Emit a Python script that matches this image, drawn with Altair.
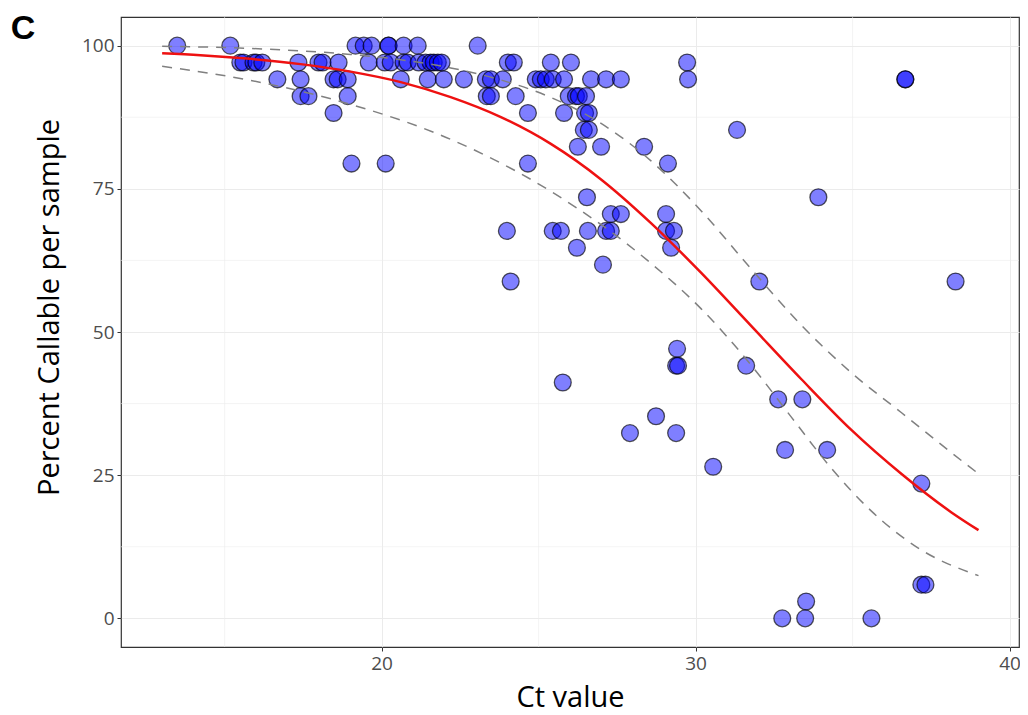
import altair as alt
import pandas as pd

# ---- scatter data (Ct value, percent callable) ----
ct_values = [
    13.49, 15.18, 19.17, 19.43, 19.68, 20.22, 20.22, 20.70, 21.15, 23.06,
    15.50, 15.60, 15.92, 16.01, 16.20, 17.35, 17.99, 18.12, 18.63, 19.59,
    20.10, 20.29, 20.70, 20.83, 21.18, 21.40, 21.56, 21.66, 21.79, 21.91,
    24.02, 24.21, 25.39, 26.03, 29.73,
    16.68, 17.42, 18.47, 18.60, 18.92, 20.61, 21.47, 21.98, 22.62, 23.32,
    23.48, 23.86, 24.91, 25.07, 25.23, 25.45, 25.81, 26.67, 27.15, 27.62,
    29.76, 36.68, 36.68,
    17.42, 17.67, 18.92, 23.35, 23.48, 24.27, 25.96, 26.19, 26.28, 26.51,
    18.47, 24.66, 25.81, 26.48, 26.60,
    26.44, 26.60, 31.32,
    26.25, 26.99, 28.36,
    19.04, 20.13, 24.66, 29.12,
    26.54, 33.91,
    27.30, 27.62, 29.06,
    23.99, 25.45, 25.71, 26.57, 27.15, 27.30, 29.06, 29.31,
    26.22, 29.22,
    27.05,
    24.11, 32.03, 38.28,
    29.41,
    29.38, 29.44, 31.61,
    25.77,
    32.63, 33.40,
    28.74,
    27.91, 29.38,
    32.85, 34.19,
    30.56,
    37.19,
    37.19, 37.32,
    33.52,
    32.76, 33.49, 35.60,
]
pct_values = (
    [100.0] * 10
    + [97.06] * 25
    + [94.12] * 23
    + [91.18] * 10
    + [88.24] * 5
    + [85.29] * 3
    + [82.35] * 3
    + [79.41] * 4
    + [73.53] * 2
    + [70.59] * 3
    + [67.65] * 8
    + [64.71] * 2
    + [61.76] * 1
    + [58.82] * 3
    + [47.06] * 1
    + [44.12] * 3
    + [41.18] * 1
    + [38.24] * 2
    + [35.29] * 1
    + [32.35] * 2
    + [29.41] * 2
    + [26.47] * 1
    + [23.53] * 1
    + [5.88] * 2
    + [2.94] * 1
    + [0.0] * 3
)

# ---- fitted curve and its confidence band ----
fit_ct = [13.01, 14.23, 15.82, 17.42, 19.01, 20.61, 22.20, 23.80, 25.39,
          26.99, 28.58, 30.18, 31.77, 33.37, 34.96, 36.56, 38.15, 39.01]
fit_pct = [98.67, 98.34, 97.69, 96.77, 95.46, 93.63, 91.01, 87.52, 82.84,
           76.64, 69.01, 60.31, 51.06, 41.75, 32.90, 25.20, 18.50, 15.40]

upper_ct = [13.01, 15.82, 19.01, 20.61, 22.20, 23.80, 25.39, 26.99, 28.58,
            30.18, 31.77, 33.37, 34.96, 36.56, 38.15, 39.01]
upper_pct = [99.90, 99.51, 98.46, 97.54, 96.11, 94.01, 90.96, 86.42, 79.87,
             71.14, 61.01, 51.18, 42.88, 35.90, 28.92, 25.25]

lower_ct = [13.01, 15.82, 19.01, 22.20, 25.39, 28.58, 30.18, 31.77, 33.05,
            34.32, 35.60, 37.19, 39.01]
lower_pct = [96.40, 93.94, 89.75, 83.64, 74.56, 61.99, 54.04, 44.21, 35.13,
             26.23, 18.72, 11.94, 7.46]

x_major = [20, 30, 40]
x_minor = [15, 25, 35]
y_major = [0, 25, 50, 75, 100]
y_minor = [12.5, 37.5, 62.5, 87.5]

FONT = "Open Sans"
xs = alt.Scale(domain=[11.7, 40.3], nice=False, zero=False)
ys = alt.Scale(domain=[-5, 105], nice=False, zero=False)
x_axis = alt.Axis(values=x_major, title="Ct value", titleBaseline="alphabetic",
                  titleY=59)
y_axis = alt.Axis(values=y_major, title="Percent Callable per sample",
                  titleBaseline="alphabetic", titleX=-63, titleY=290,
                  titleAngle=270)

pts = pd.DataFrame({"ct": ct_values, "pct": pct_values})
fit = pd.DataFrame({"ct": fit_ct, "pct": fit_pct})
band = pd.concat([
    pd.DataFrame({"ct": upper_ct, "pct": upper_pct, "band": "upper"}),
    pd.DataFrame({"ct": lower_ct, "pct": lower_pct, "band": "lower"}),
])

minor_x = alt.Chart(pd.DataFrame({"ct": x_minor})).mark_rule(
    color="#ededed", strokeWidth=0.6
).encode(x=alt.X("ct:Q", scale=xs, axis=x_axis))

minor_y = alt.Chart(pd.DataFrame({"pct": y_minor})).mark_rule(
    color="#ededed", strokeWidth=0.6
).encode(y=alt.Y("pct:Q", scale=ys, axis=y_axis))

points = alt.Chart(pts).mark_circle(
    size=285, color="#0000ff", fillOpacity=0.5, stroke="black",
    strokeOpacity=0.65, strokeWidth=1.3
).encode(
    x=alt.X("ct:Q", scale=xs, axis=x_axis),
    y=alt.Y("pct:Q", scale=ys, axis=y_axis),
)

band_lines = alt.Chart(band).mark_line(
    color="#808080", strokeWidth=1.5, strokeDash=[10, 8], interpolate="monotone"
).encode(
    x=alt.X("ct:Q", scale=xs, axis=x_axis),
    y=alt.Y("pct:Q", scale=ys, axis=y_axis),
    detail="band:N",
)

fit_line = alt.Chart(fit).mark_line(
    color="#ee1111", strokeWidth=2.5, interpolate="monotone"
).encode(
    x=alt.X("ct:Q", scale=xs, axis=x_axis),
    y=alt.Y("pct:Q", scale=ys, axis=y_axis),
)

panel_label = alt.Chart(pd.DataFrame({"label": ["C"]})).mark_text(
    font="Liberation Sans", fontSize=34, fontWeight="bold", color="black",
    align="center", baseline="alphabetic"
).encode(text="label:N", x=alt.value(-98), y=alt.value(22))

chart = alt.layer(
    minor_x, minor_y, points, band_lines, fit_line, panel_label
).properties(
    width=898, height=630,
    autosize=alt.AutoSizeParams(type="none"),
    padding={"left": 113, "top": 9, "right": 1, "bottom": 68},
).configure_view(
    stroke="#333333", strokeWidth=1.2
).configure_axis(
    grid=True, gridColor="#ebebeb", gridWidth=1,
    domain=False, ticks=True, tickColor="#333333", tickSize=4, tickWidth=1,
    labelFont=FONT, labelFontSize=19, labelColor="#4d4d4d", labelPadding=3,
    titleFont=FONT, titleFontSize=29, titleFontWeight="normal", titleColor="black",
)

chart.save("out.html", embed_options={"renderer": "svg", "actions": False})
